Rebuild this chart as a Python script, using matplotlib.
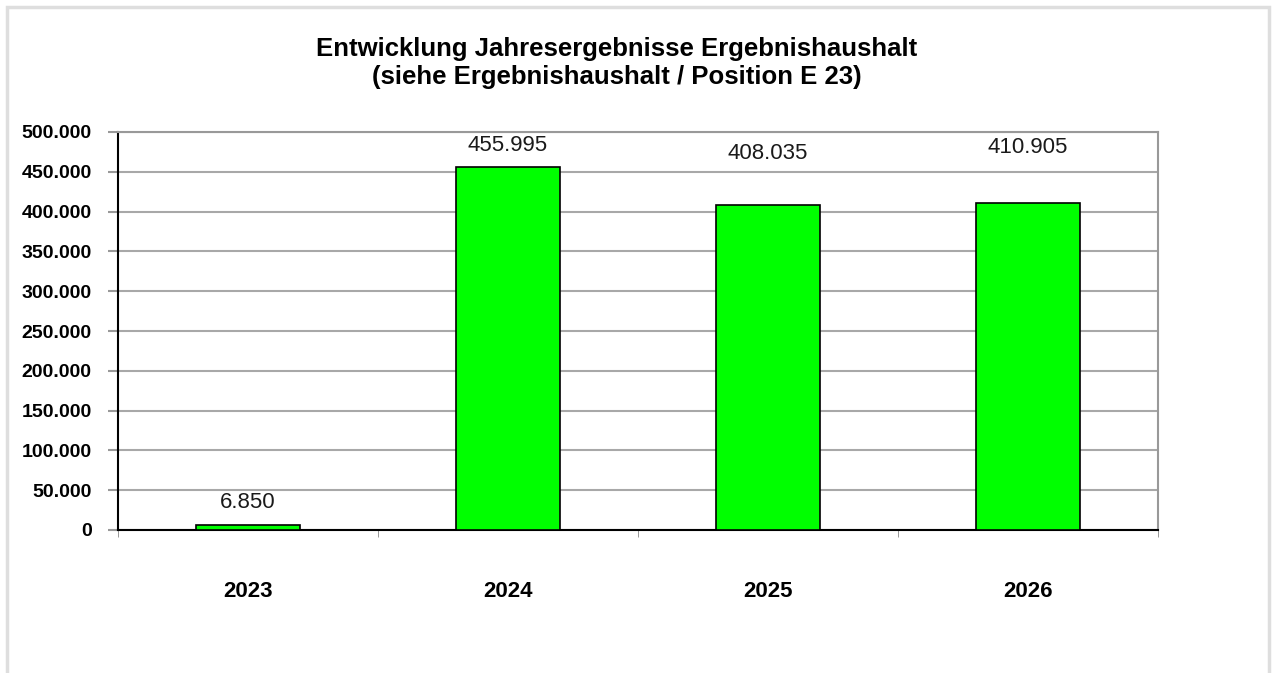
import matplotlib.pyplot as plt
from matplotlib.patches import Rectangle
import numpy as np

jahre = ['2023', '2024', '2025', '2026']
ergebnisse = [6850, 455995, 408035, 410905]
y_ticks = np.arange(0, 500001, 50000)

# Abstand der Beschriftung ueber dem Balken (Punkte), wie im Original unregelmaessig
label_offsets = [8, 8, 30, 32]

plt.rcParams['font.family'] = ['Liberation Sans', 'DejaVu Sans']

fig = plt.figure(figsize=(12.76, 6.73), dpi=100)
fig.patches.append(Rectangle((7 / 1276, -0.1), 1262 / 1276, 1 - 7 / 673 + 0.1,
                             transform=fig.transFigure, fill=False,
                             edgecolor='#dedede', linewidth=2.5))

ax = fig.add_axes([118 / 1276, 1 - 530 / 673, 1040 / 1276, 398 / 673])

x = np.arange(len(jahre))
ax.bar(x, ergebnisse, width=0.4, color='#00ff00', edgecolor='black', linewidth=1.2, zorder=3)

for xi, v, off in zip(x, ergebnisse, label_offsets):
    ax.annotate(f'{v:,}'.replace(',', '.'), (xi, v), xytext=(0, off), textcoords='offset points',
                ha='center', va='bottom', fontsize=16, color='#1a1a1a', zorder=4)

ax.set_xlim(-0.5, len(jahre) - 0.5)
ax.set_ylim(0, 500000)
ax.set_yticks(y_ticks)
ax.set_yticklabels([f'{t:,}'.replace(',', '.') for t in y_ticks], fontsize=14, fontweight='bold')
ax.yaxis.grid(True, color='#a8a8a8', linewidth=1.5, zorder=0)

ax.set_xticks(x)
ax.set_xticklabels(jahre, fontsize=16, fontweight='bold')
ax.tick_params(axis='x', length=0, pad=37)
ax.set_xticks(np.arange(-0.5, len(jahre)), minor=True)
ax.tick_params(axis='x', which='minor', length=5, color='#888888', direction='out')
ax.tick_params(axis='y', length=7, color='#999999', direction='out', width=1.5, pad=12)

for side in ['top', 'right']:
    ax.spines[side].set_color('#999999')
    ax.spines[side].set_linewidth(1.5)
ax.spines['left'].set_color('black')
ax.spines['bottom'].set_color('black')
ax.spines['left'].set_linewidth(1.5)
ax.spines['bottom'].set_linewidth(1.5)

fig.text(617 / 1276, 1 - 63 / 673,
         'Entwicklung Jahresergebnisse Ergebnishaushalt\n(siehe Ergebnishaushalt / Position E 23)',
         ha='center', va='center', fontsize=18.5, fontweight='bold', linespacing=1.2)

fig.savefig('out.png', dpi=100)
